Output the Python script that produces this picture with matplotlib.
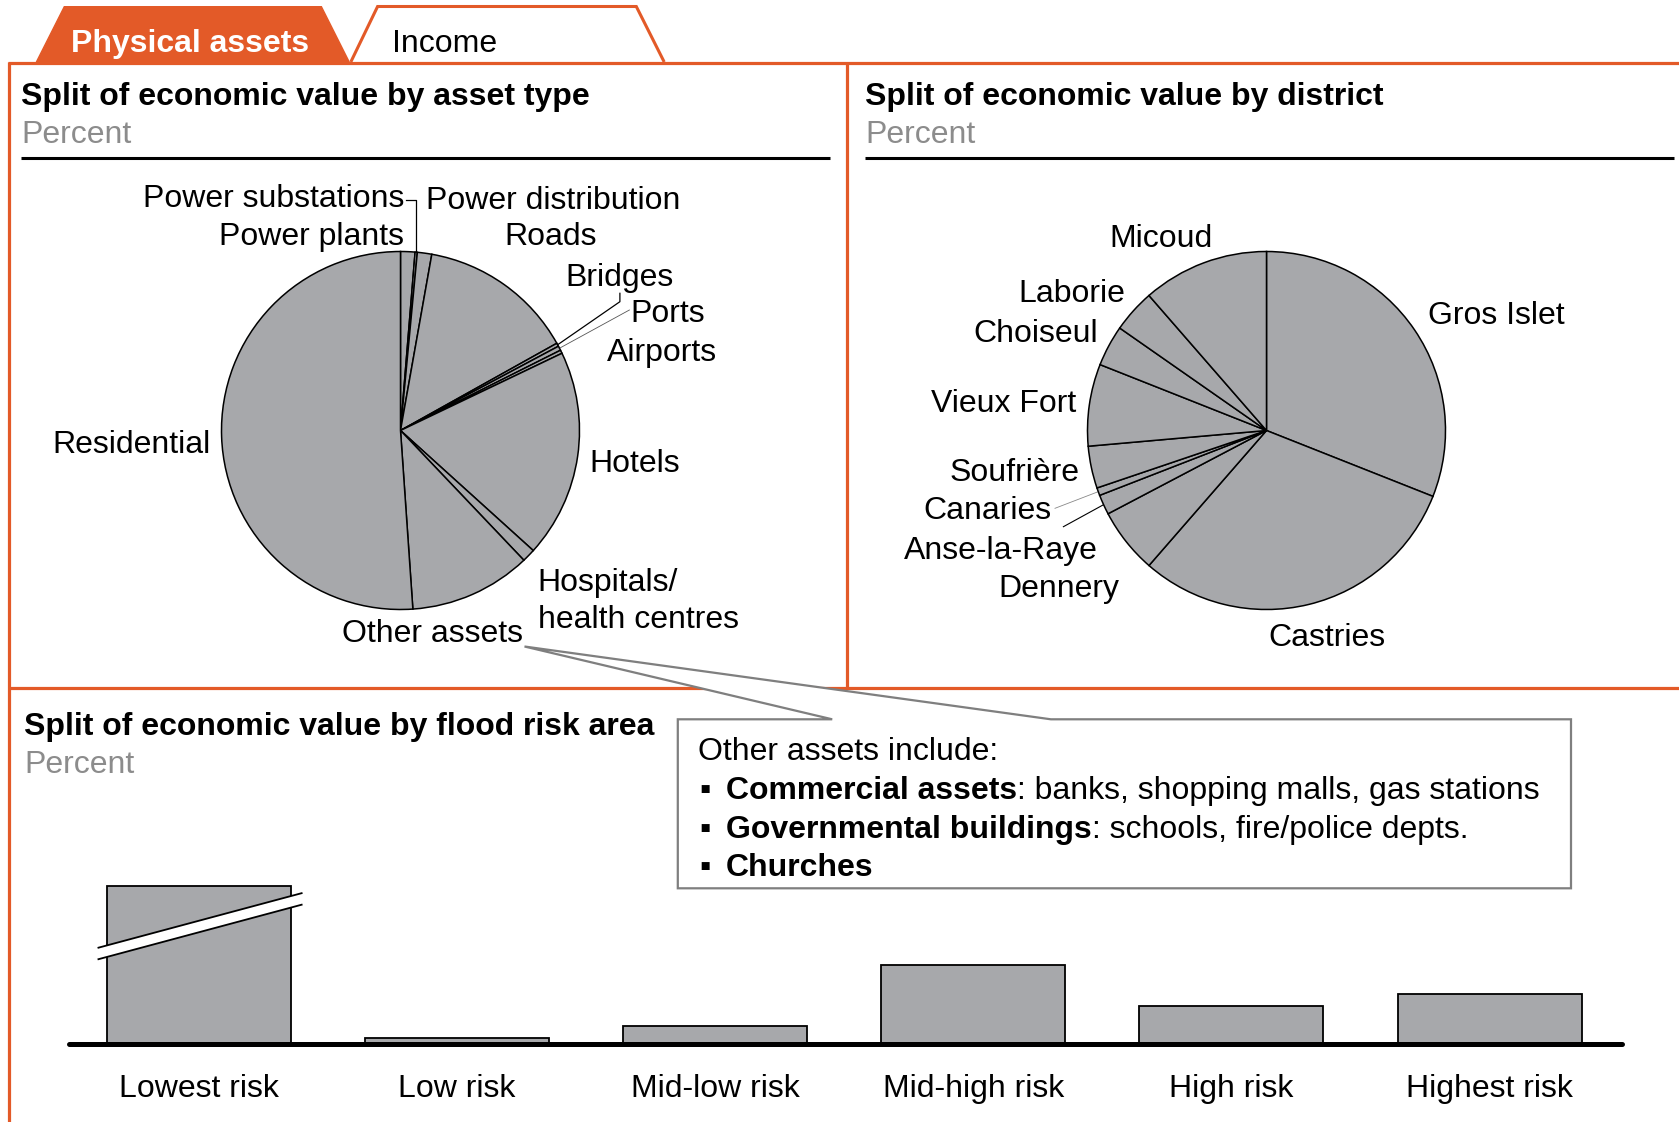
import matplotlib
matplotlib.use('Agg')
import matplotlib.pyplot as plt
from matplotlib.patches import Polygon
import numpy as np

plt.rcParams['font.family'] = ['Liberation Sans', 'DejaVu Sans']

# ---------------- data ----------------
asset_labels = ['Power plants', 'Power substations', 'Power distribution', 'Roads', 'Bridges',
                'Ports', 'Airports', 'Hotels', 'Hospitals/\nhealth centres', 'Other assets', 'Residential']
asset_values = [1.3, 0.2, 1.3, 14.1, 0.3, 0.4, 0.3, 18.8, 1.2, 11.0, 51.1]

district_labels = ['Gros Islet', 'Castries', 'Dennery', 'Anse-la-Raye', 'Canaries', 'Soufrière',
                   'Vieux Fort', 'Choiseul', 'Laborie', 'Micoud']
district_values = [31.0, 30.4, 5.9, 1.8, 0.7, 3.8, 7.4, 3.7, 3.9, 11.4]

risk_labels = ['Lowest risk', 'Low risk', 'Mid-low risk', 'Mid-high risk', 'High risk', 'Highest risk']
risk_values = [60.0, 1.3, 3.8, 16.6, 7.9, 10.4]

# ---------------- style ----------------
W, H = 1679, 1122
FS = 23
ORANGE = '#E35A28'
GRAY = '#A7A8AB'
PGRAY = '#8C8C8C'
BOXGRAY = '#7F7F7F'

fig = plt.figure(figsize=(W / 100, H / 100), dpi=100)
ov = fig.add_axes([0, 0, 1, 1])
ov.set_xlim(0, W)
ov.set_ylim(H, 0)
ov.axis('off')

CAP_OFF = 22.0  # baseline offset (px)


def T(x, yc, s, ha='left', **kw):
    return ov.text(x, yc + CAP_OFF, s, ha=ha, va='baseline', fontsize=kw.pop('fontsize', FS), **kw)


# ---------------- tabs & frame ----------------
ov.add_patch(Polygon([(36.4, 62), (64.3, 6.7), (321.4, 6.7), (349.2, 62)], closed=True,
                     facecolor=ORANGE, edgecolor=ORANGE, lw=1))
ov.add_patch(Polygon([(350.8, 62), (377.6, 6.5), (636.3, 6.5), (664.2, 62)], closed=False,
                     facecolor='white', edgecolor=ORANGE, lw=2.2, joinstyle='miter'))
T(190, 29.5, 'Physical assets', ha='center', color='white', fontweight='bold')
T(444.6, 29.5, 'Income', ha='center', color='black')

ov.plot([7.5, W], [62.7, 62.7], color=ORANGE, lw=2.3, solid_capstyle='butt')
ov.plot([9.1, 9.1], [61.5, H], color=ORANGE, lw=2.3, solid_capstyle='butt')
ov.plot([847.4, 847.4], [62.7, 688.3], color=ORANGE, lw=2.3, solid_capstyle='butt')
ov.plot([9.1, W], [688.3, 688.3], color=ORANGE, lw=2.3, solid_capstyle='butt')

# titles
T(21.4, 82.5, 'Split of economic value by asset type', fontweight='bold')
T(21.4, 121, 'Percent', color=PGRAY)
ov.plot([21.4, 830], [157.7, 157.7], color='black', lw=2.2, solid_capstyle='butt')
T(865, 82.5, 'Split of economic value by district', fontweight='bold')
T(865, 121, 'Percent', color=PGRAY)
ov.plot([865, 1674], [157.7, 157.7], color='black', lw=2.2, solid_capstyle='butt')
T(24.1, 712.5, 'Split of economic value by flood risk area', fontweight='bold')
T(24.1, 750.5, 'Percent', color=PGRAY)


# ---------------- pies ----------------
def make_pie(cx, cy, r, values):
    half = 1.3
    ax = fig.add_axes([(cx - r * half) / W, 1 - (cy + r * half) / H, 2 * r * half / W, 2 * r * half / H])
    ax.pie(values, startangle=90, counterclock=False, colors=[GRAY] * len(values),
           wedgeprops=dict(edgecolor='black', linewidth=1.1))
    ax.set_xlim(-half, half)
    ax.set_ylim(-half, half)
    ax.set_aspect('equal')
    ax.axis('off')
    ax.patch.set_alpha(0)
    cum = np.concatenate([[0], np.cumsum(values)]) / np.sum(values) * 360.0

    def mid(i):
        th = np.deg2rad((cum[i] + cum[i + 1]) / 2)
        return cx + r * np.sin(th), cy - r * np.cos(th)
    return ax, mid


LCX, LCY, R = 400.5, 430.5, 179
RCX, RCY = 1266.5, 430.5
axL, midL = make_pie(LCX, LCY, R, asset_values)
axR, midR = make_pie(RCX, RCY, R, district_values)

# left pie labels
T(404, 185, asset_labels[1], ha='right')
T(426, 187, asset_labels[2])
T(404, 223, asset_labels[0], ha='right')
T(504.3, 223, asset_labels[3])
T(565.5, 264, asset_labels[4])
T(630.6, 300, asset_labels[5])
T(606.5, 339, asset_labels[6])
T(589.3, 450, asset_labels[7])
h1, h2 = asset_labels[8].split('\n')
T(537.5, 569, h1)
T(537.5, 606, h2)
T(523.2, 620, asset_labels[9], ha='right')
T(211, 431, asset_labels[10], ha='right')

# leaders (left pie)
px, py = midL(1)
ov.plot([405.5, px, px], [199.5, 199.5, py], color='black', lw=0.9)
px, py = midL(4)
ov.plot([619.9, 619.9, px], [293.3, 301.7, py], color='black', lw=0.9)
px, py = midL(5)
ov.plot([629.4, px], [310.0, py], color='#555555', lw=0.6)

# right pie labels
T(1160.7, 225, district_labels[9], ha='center')
T(1428, 301.5, district_labels[0])
T(1125.4, 280, district_labels[8], ha='right')
T(1097.8, 320, district_labels[7], ha='right')
T(1075.8, 390, district_labels[6], ha='right')
T(1079.5, 459, district_labels[5], ha='right')
T(1051.9, 497, district_labels[4], ha='right')
T(1097.8, 536.5, district_labels[3], ha='right')
T(1119.4, 575, district_labels[2], ha='right')
T(1327.4, 623.5, district_labels[1], ha='center')

px, py = midR(4)
ov.plot([1055, px], [508.3, py], color='#888888', lw=0.6)
px, py = midR(3)
ov.plot([1063.4, px], [526.7, py], color='black', lw=0.8)

# ---------------- callout ----------------
ov.add_patch(Polygon([(677.8, 719.3), (832.2, 719.3), (524.5, 646.5), (1050.9, 719.3),
                      (1571, 719.3), (1571, 888.3), (677.8, 888.3)], closed=True,
                     facecolor='white', edgecolor=BOXGRAY, lw=1.6, joinstyle='miter', zorder=5))
T(698, 738, 'Other assets include:', zorder=6)
renderer = fig.canvas.get_renderer()
bullets = [('Commercial assets', ': banks, shopping malls, gas stations'),
           ('Governmental buildings', ': schools, fire/police depts.'),
           ('Churches', '')]
for i, (b, rest) in enumerate(bullets):
    yc = 777 + i * 38.5
    T(699, yc, '\u25aa', zorder=6)
    tb = T(726, yc, b, fontweight='bold', zorder=6)
    if rest:
        bb = tb.get_window_extent(renderer=renderer)
        xe = ov.transData.inverted().transform((bb.x1, bb.y0))[0]
        T(xe, yc, rest, zorder=6)

# ---------------- bar chart ----------------
PXPCT = 4.8
CAP = 158 / PXPCT
bx0, bx1 = 68.5, 1622
base_y, top_y = 1044.3, 844.3
axb = fig.add_axes([bx0 / W, 1 - base_y / H, (bx1 - bx0) / W, (base_y - top_y) / H])
axb.patch.set_alpha(0)
xs = np.arange(len(risk_values))
xl = (-0.504, 5.513)
axb.set_xlim(*xl)
axb.set_ylim(0, (base_y - top_y) / PXPCT)
axb.bar(xs, np.minimum(risk_values, CAP), width=0.713, color=GRAY, edgecolor='black', lw=1.3, zorder=2)
axb.plot(list(xl), [0, 0], color='black', lw=3.6, solid_capstyle='round', clip_on=False, zorder=3)
for s in axb.spines.values():
    s.set_visible(False)
axb.set_yticks([])
axb.set_xticks(xs, risk_labels, fontsize=FS)
axb.tick_params(axis='x', length=0, pad=21.5)

# break marks on the capped bar
ib = int(np.argmax(risk_values))
bxl, bxr = ib - 0.388, ib + 0.399
yl_c, yr_c, hh = CAP * 0.575, CAP * 0.92, 1.2
axb.add_patch(Polygon([(bxl, yl_c - hh), (bxr, yr_c - hh), (bxr, yr_c + hh), (bxl, yl_c + hh)],
                      closed=True, facecolor='white', edgecolor='none', zorder=4, clip_on=False))
axb.plot([bxl, bxr], [yl_c + hh, yr_c + hh], color='black', lw=1.3, zorder=5, clip_on=False)
axb.plot([bxl, bxr], [yl_c - hh, yr_c - hh], color='black', lw=1.3, zorder=5, clip_on=False)

fig.savefig('out.png', dpi=100)
